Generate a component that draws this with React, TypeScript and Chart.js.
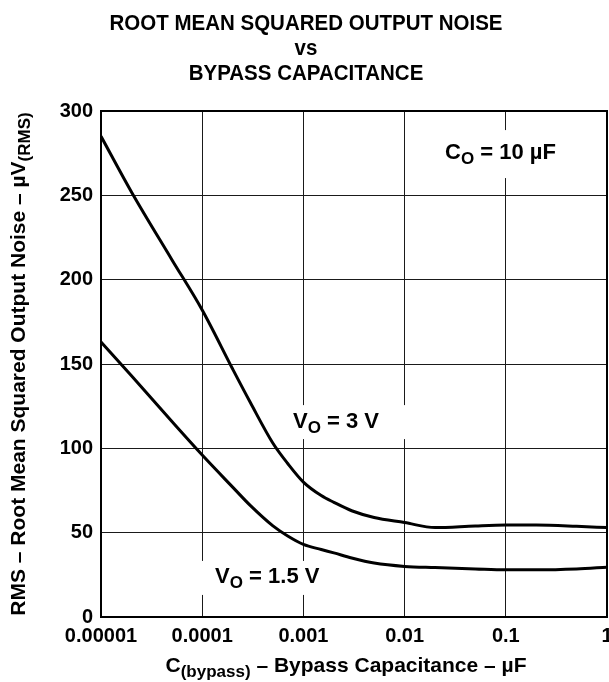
import React, { useEffect, useRef } from 'react';
import { Chart, registerables } from 'chart.js';

Chart.register(...registerables);

// ---- data ----
const CAPACITANCE = [1e-5, 2e-5, 5e-5, 1e-4, 2e-4, 3e-4, 5e-4, 7e-4, 1e-3, 1.5e-3, 2e-3, 3e-3, 5e-3, 1e-2, 2e-2, 5e-2, 1e-1, 2e-1, 5e-1, 1];
const NOISE_VO_3V = [285, 252, 212, 182, 147, 127, 103, 91, 80, 72, 68, 63, 59, 56, 53, 54, 54.5, 54.5, 53.8, 53];
const NOISE_VO_1_5V = [163, 143, 116, 96, 77, 66, 54, 48, 43, 40, 38, 35, 32, 30, 29.3, 28.5, 28, 28, 28.5, 29.5];
const X_TICKS = [1e-5, 1e-4, 1e-3, 1e-2, 1e-1, 1];
const X_TICK_LABELS = ['0.00001', '0.0001', '0.001', '0.01', '0.1', '1'];
const Y_TICKS = [0, 50, 100, 150, 200, 250, 300];
const TITLE_LINES = ['ROOT MEAN SQUARED OUTPUT NOISE', 'vs', 'BYPASS CAPACITANCE'];

const FONT = '"Liberation Sans", Arial, Helvetica, sans-serif';
const INK = '#000';

type Part = { text: string; size: number; dy: number };

function richWidth(ctx: CanvasRenderingContext2D, parts: Part[]) {
  let w = 0;
  for (const p of parts) {
    ctx.font = `bold ${p.size}px ${FONT}`;
    w += ctx.measureText(p.text).width;
  }
  return w;
}

function drawRich(ctx: CanvasRenderingContext2D, parts: Part[], x: number, y: number) {
  let cx = x;
  ctx.textAlign = 'left';
  ctx.textBaseline = 'alphabetic';
  for (const p of parts) {
    ctx.font = `bold ${p.size}px ${FONT}`;
    ctx.fillText(p.text, cx, y + p.dy);
    cx += ctx.measureText(p.text).width;
  }
}

// annotation labels: anchor (text left, baseline) in data space; box = white backing (px offsets)
const ANNOTATIONS = [
  { parts: [{ text: 'C', size: 22, dy: 0 }, { text: 'O', size: 17, dy: 5 }, { text: ' = 10 µF', size: 22, dy: 0 }], x: 0.0251, y: 271.5, box: [-7, 115, -29, 19] },
  { parts: [{ text: 'V', size: 22, dy: 0 }, { text: 'O', size: 17, dy: 5 }, { text: ' = 3 V', size: 22, dy: 0 }], x: 7.9e-4, y: 112, box: [-5, 119, -23, 11] },
  { parts: [{ text: 'V', size: 22, dy: 0 }, { text: 'O', size: 17, dy: 5 }, { text: ' = 1.5 V', size: 22, dy: 0 }], x: 1.34e-4, y: 20.2, box: [-17, 107, -22, 12] },
];

const Y_TITLE: Part[] = [
  { text: 'RMS – Root Mean Squared Output Noise – µV', size: 21, dy: 0 },
  { text: '(RMS)', size: 17, dy: 5 },
];
const X_TITLE: Part[] = [
  { text: 'C', size: 21, dy: 0 },
  { text: '(bypass)', size: 17, dy: 5 },
  { text: ' – Bypass Capacitance – µF', size: 21, dy: 0 },
];

const decorPlugin = {
  id: 'decor',
  beforeDatasetsDraw(chart: any) {
    const { ctx } = chart;
    const xs = chart.scales.x;
    const ys = chart.scales.y;
    ctx.save();
    ctx.fillStyle = '#fff';
    for (const a of ANNOTATIONS) {
      const px = xs.getPixelForValue(a.x);
      const py = ys.getPixelForValue(a.y);
      ctx.fillRect(px + a.box[0], py + a.box[2], a.box[1] - a.box[0], a.box[3] - a.box[2]);
    }
    ctx.restore();
  },
  afterDraw(chart: any) {
    const { ctx, chartArea: ca } = chart;
    const xs = chart.scales.x;
    const ys = chart.scales.y;
    ctx.save();
    // frame
    ctx.strokeStyle = INK;
    ctx.lineWidth = 2;
    ctx.strokeRect(ca.left, ca.top, ca.right - ca.left, ca.bottom - ca.top);
    ctx.fillStyle = INK;
    // annotations
    for (const a of ANNOTATIONS) {
      drawRich(ctx, a.parts, xs.getPixelForValue(a.x), ys.getPixelForValue(a.y));
    }
    // title (condensed bold)
    ctx.font = `bold 22px ${FONT}`;
    ctx.textAlign = 'center';
    ctx.textBaseline = 'alphabetic';
    const tcx = 306;
    const w0 = ctx.measureText(TITLE_LINES[0]).width;
    const sx = 393 / w0;
    TITLE_LINES.forEach((t, i) => {
      ctx.save();
      ctx.translate(tcx, 30 + i * 25);
      ctx.scale(sx, 1);
      ctx.fillText(t, 0, 0);
      ctx.restore();
    });
    // x title
    const xw = richWidth(ctx, X_TITLE);
    drawRich(ctx, X_TITLE, 346 - xw / 2, 672);
    // y title
    const yw = richWidth(ctx, Y_TITLE);
    ctx.translate(25, (ca.top + ca.bottom) / 2);
    ctx.rotate(-Math.PI / 2);
    drawRich(ctx, Y_TITLE, -yw / 2, 0);
    ctx.restore();
  },
};

export default function App() {
  const ref = useRef<HTMLCanvasElement | null>(null);
  useEffect(() => {
    if (!ref.current) return;
    const chart = new Chart(ref.current, {
      type: 'line',
      data: {
        datasets: [
          {
            label: 'VO = 3 V',
            data: CAPACITANCE.map((c, i) => ({ x: c, y: NOISE_VO_3V[i] })),
            borderColor: INK,
            borderWidth: 3,
            pointRadius: 0,
            cubicInterpolationMode: 'monotone',
            fill: false,
          },
          {
            label: 'VO = 1.5 V',
            data: CAPACITANCE.map((c, i) => ({ x: c, y: NOISE_VO_1_5V[i] })),
            borderColor: INK,
            borderWidth: 3,
            pointRadius: 0,
            cubicInterpolationMode: 'monotone',
            fill: false,
          },
        ],
      },
      options: {
        animation: false,
        responsive: false,
        events: [],
        layout: { padding: { left: 0, right: 2, top: 111, bottom: 0 } },
        plugins: { legend: { display: false }, title: { display: false }, tooltip: { enabled: false } },
        scales: {
          x: {
            type: 'logarithmic',
            min: 1e-5,
            max: 1,
            border: { display: false },
            grid: { color: '#1a1a1a', lineWidth: 1, drawTicks: false },
            afterBuildTicks: (s: any) => { s.ticks = X_TICKS.map((v) => ({ value: v, major: true })); },
            afterFit: (s: any) => { s.height = 65; s.paddingLeft = 0; s.paddingRight = 0; },
            ticks: {
              autoSkip: false,
              maxRotation: 0,
              minRotation: 0,
              padding: 7,
              color: INK,
              font: { family: FONT, size: 20, weight: 'bold' },
              callback: (_v: any, i: number) => X_TICK_LABELS[i],
            },
          },
          y: {
            type: 'linear',
            min: 0,
            max: 300,
            border: { display: false },
            grid: { color: '#1a1a1a', lineWidth: 1, drawTicks: false },
            afterBuildTicks: (s: any) => { s.ticks = Y_TICKS.map((v) => ({ value: v })); },
            afterFit: (s: any) => { s.width = 101; s.paddingTop = 0; s.paddingBottom = 0; },
            ticks: {
              autoSkip: false,
              padding: 8,
              color: INK,
              font: { family: FONT, size: 20, weight: 'bold' },
              callback: (v: any) => String(v),
            },
          },
        },
      } as any,
      plugins: [decorPlugin],
    });
    return () => chart.destroy();
  }, []);
  return (
    <div style={{ position: 'absolute', left: 0, top: 0, width: 609, height: 682, background: '#fff' }}>
      <canvas ref={ref} width={609} height={682} style={{ display: 'block', width: 609, height: 682 }} />
    </div>
  );
}
